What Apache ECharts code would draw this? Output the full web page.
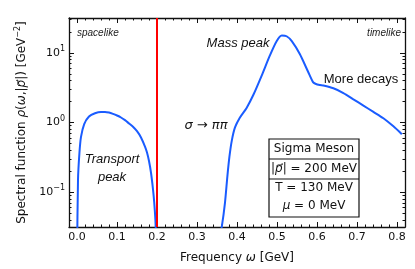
<!DOCTYPE html>
<html>
<head>
<meta charset="utf-8">
<script src="https://cdn.jsdelivr.net/npm/echarts@6/dist/echarts.min.js"></script>
<style>html,body{margin:0;padding:0;background:#fff}#c{width:415px;height:269px}</style>
</head>
<body>
<div id="c"></div>
<script>
// ---- data ----
const omegaTransport = [0.000, 0.0025, 0.006, 0.010, 0.018, 0.030, 0.045, 0.060, 0.070, 0.080, 0.090, 0.100, 0.110, 0.120, 0.130, 0.140, 0.150, 0.160, 0.170, 0.175, 0.180, 0.185, 0.190, 0.193, 0.196, 0.198];
const rhoTransport   = [0.010, 0.15,   0.36,  0.62,  0.95,  1.22,  1.36,  1.42,  1.42,  1.39,  1.33,  1.26,  1.18,  1.08,  0.97,  0.87,  0.75,  0.61,  0.45,  0.37,  0.28,  0.19,  0.11,  0.072, 0.040, 0.020];
const omegaTimelike = [0.355, 0.362, 0.370, 0.376, 0.381, 0.387, 0.395, 0.407, 0.424, 0.441, 0.462, 0.482, 0.499, 0.512, 0.524, 0.537, 0.557, 0.578, 0.590, 0.596, 0.607, 0.616, 0.641, 0.666, 0.691, 0.716, 0.741, 0.766, 0.791, 0.812];
const rhoTimelike   = [0.020, 0.032, 0.071, 0.17,  0.32,  0.55,  0.85,  1.17,  1.62,  2.5,   4.76,  9.1,   14.7,  17.7,  17.3,  14.7,  9.6,   5.3,   3.8,   3.6,   3.45,  3.4,   3.1,   2.65,  2.15,  1.75,  1.42,  1.15,  0.88,  0.68];
const xMajorTicks = [0.0, 0.1, 0.2, 0.3, 0.4, 0.5, 0.6, 0.7, 0.8];
const yMajorTicks = [0.1, 1, 10];
const yMinorTicks = [0.04, 0.05, 0.06, 0.07, 0.08, 0.09, 0.2, 0.3, 0.4, 0.5, 0.6, 0.7, 0.8, 0.9, 2, 3, 4, 5, 6, 7, 8, 9, 20, 30];
const cutoffOmega = 0.2;

const X_MIN = -0.02, X_MAX = 0.82;
const Y_MIN = Math.pow(10, -1.5), Y_MAX = Math.pow(10, 1.5);
const BLUE = '#1a5cff';
const AX = '#111';

function zip(a, b) { return a.map((v, i) => [v, b[i]]); }

const chart = echarts.init(document.getElementById('c'), null, {renderer: 'canvas'});

function xAx(pos, major, showLabel, showLine) {
  const o = {
    type: 'value', min: X_MIN, max: X_MAX, position: pos,
    splitLine: {show: false},
    axisLine: {show: showLine, onZero: false, lineStyle: {color: AX, width: 1.3}},
    axisTick: {show: true, inside: true, length: major ? 5 : 2.5, lineStyle: {color: AX, width: 1}},
    axisLabel: {show: false}
  };
  if (major) {
    o.axisTick.customValues = xMajorTicks;
    o.axisLabel.customValues = xMajorTicks;
  } else {
    o.interval = 0.02;
  }
  if (showLabel) {
    o.axisLabel = {show: true, customValues: xMajorTicks, formatter: v => v.toFixed(1),
      fontFamily: 'DejaVu Sans', fontSize: 11, color: '#111', margin: 5};
    o.name = 'Frequency {i|ω} [GeV]';
    o.nameLocation = 'middle';
    o.nameGap = 25;
    o.nameTextStyle = {fontFamily: 'DejaVu Sans', fontSize: 12, color: '#111',
      rich: {i: {fontFamily: 'DejaVu Sans', fontStyle: 'italic', fontSize: 12, color: '#111'}}};
  }
  return o;
}

function yAx(pos, major, showLabel, showLine) {
  const o = {
    type: 'log', logBase: 10, min: Y_MIN, max: Y_MAX, position: pos,
    splitLine: {show: false}, minorTick: {show: false},
    axisLine: {show: showLine, onZero: false, lineStyle: {color: AX, width: 1.3}},
    axisTick: {show: true, inside: true, length: major ? 5 : 2.5, lineStyle: {color: AX, width: 1},
      customValues: major ? yMajorTicks : yMinorTicks},
    axisLabel: {show: false, customValues: major ? yMajorTicks : yMinorTicks}
  };
  if (showLabel) {
    o.axisLabel = {show: true, customValues: yMajorTicks, margin: 4,
      formatter: v => { const e = Math.round(Math.log10(v)); return '10{sup|' + (e < 0 ? '\u2212' + (-e) : e) + '}'; },
      fontFamily: 'DejaVu Sans', fontSize: 11, color: '#111',
      rich: {sup: {fontFamily: 'DejaVu Sans', fontSize: 8, color: '#111', padding: [0, 0, 8, 0]}}};
    o.name = 'Spectral function {i|ρ}({i|ω},|{i|p\u20D7}|) [GeV{sup|\u22122}]';
    o.nameLocation = 'middle';
    o.nameGap = 37;
    o.nameRotate = 90;
    o.nameTextStyle = {fontFamily: 'DejaVu Sans', fontSize: 12, color: '#111',
      rich: {i: {fontFamily: 'DejaVu Sans', fontStyle: 'italic', fontSize: 12, color: '#111'},
             sup: {fontFamily: 'DejaVu Sans', fontSize: 8, color: '#111', padding: [0, 0, 8, 0]}}};
  }
  return o;
}

const boxL = 269, boxR = 359, boxT = 139, boxB = 217;
const boxCx = (boxL + boxR) / 2;
const boxFont = '12px "DejaVu Sans"';

const option = {
  animation: false,
  backgroundColor: '#fff',
  grid: {left: 69, right: 10, top: 18, bottom: 37, containLabel: false},
  xAxis: [xAx('bottom', true, true, true), xAx('bottom', false, false, false),
          xAx('top', true, false, true), xAx('top', false, false, false)],
  yAxis: [yAx('left', true, true, true), yAx('left', false, false, false),
          yAx('right', true, false, true), yAx('right', false, false, false)],
  series: [
    {type: 'line', xAxisIndex: 0, yAxisIndex: 0, data: zip(omegaTransport, rhoTransport),
     showSymbol: false, symbol: 'none', smooth: 0.25, clip: true,
     lineStyle: {color: BLUE, width: 2}, z: 3,
     markLine: {silent: true, symbol: 'none', label: {show: false},
       lineStyle: {color: '#ff0000', width: 2, type: 'solid'},
       data: [{xAxis: cutoffOmega}]}},
    {type: 'line', xAxisIndex: 0, yAxisIndex: 0, data: zip(omegaTimelike, rhoTimelike),
     showSymbol: false, symbol: 'none', smooth: 0.25, clip: true,
     lineStyle: {color: BLUE, width: 2}, z: 3}
  ],
  graphic: [
    {type: 'text', x: 77, y: 33, z: 10, style: {text: 'spacelike', font: 'italic 10px "Liberation Sans"', fill: '#222', textAlign: 'left', textVerticalAlign: 'middle'}},
    {type: 'text', x: 401, y: 33, z: 10, style: {text: 'timelike', font: 'italic 10px "Liberation Sans"', fill: '#222', textAlign: 'right', textVerticalAlign: 'middle'}},
    {type: 'text', x: 238, y: 43, z: 10, style: {text: 'Mass peak', font: 'italic 13px "Liberation Sans"', fill: '#111', textAlign: 'center', textVerticalAlign: 'middle'}},
    {type: 'text', x: 361, y: 79, z: 10, style: {text: 'More decays', font: '13px "Liberation Sans"', fill: '#111', textAlign: 'center', textVerticalAlign: 'middle'}},
    {type: 'text', x: 206, y: 126, z: 10, style: {text: 'σ → ππ', font: 'italic 13px "DejaVu Sans"', fill: '#111', textAlign: 'center', textVerticalAlign: 'middle'}},
    {type: 'text', x: 112, y: 159, z: 10, style: {text: 'Transport', font: 'italic 13px "Liberation Sans"', fill: '#111', textAlign: 'center', textVerticalAlign: 'middle'}},
    {type: 'text', x: 112, y: 177, z: 10, style: {text: 'peak', font: 'italic 13px "Liberation Sans"', fill: '#111', textAlign: 'center', textVerticalAlign: 'middle'}},
    {type: 'rect', z: 10, shape: {x: boxL, y: boxT, width: boxR - boxL, height: boxB - boxT}, style: {fill: '#fff', stroke: '#111', lineWidth: 1.2}},
    {type: 'line', z: 11, shape: {x1: boxL, y1: 159, x2: boxR, y2: 159}, style: {stroke: '#111', lineWidth: 1.2}},
    {type: 'line', z: 11, shape: {x1: boxL, y1: 179, x2: boxR, y2: 179}, style: {stroke: '#111', lineWidth: 1.2}},
    {type: 'text', x: boxCx, y: 149, z: 12, style: {text: 'Sigma Meson', font: boxFont, fill: '#111', textAlign: 'center', textVerticalAlign: 'middle'}},
    {type: 'text', x: boxCx, y: 169, z: 12, style: {text: '|{i|p\u20D7}| = 200 MeV', font: boxFont, fill: '#111', textAlign: 'center', textVerticalAlign: 'middle',
      rich: {i: {font: 'italic 12px "DejaVu Sans"', fill: '#111'}}}},
    {type: 'text', x: boxCx, y: 188, z: 12, style: {text: 'T = 130 MeV', font: boxFont, fill: '#111', textAlign: 'center', textVerticalAlign: 'middle'}},
    {type: 'text', x: boxCx, y: 206, z: 12, style: {text: '{i|μ} = 0 MeV', font: boxFont, fill: '#111', textAlign: 'center', textVerticalAlign: 'middle',
      rich: {i: {font: 'italic 12px "DejaVu Sans"', fill: '#111'}}}}
  ]
};
chart.setOption(option);
</script>
</body>
</html>
